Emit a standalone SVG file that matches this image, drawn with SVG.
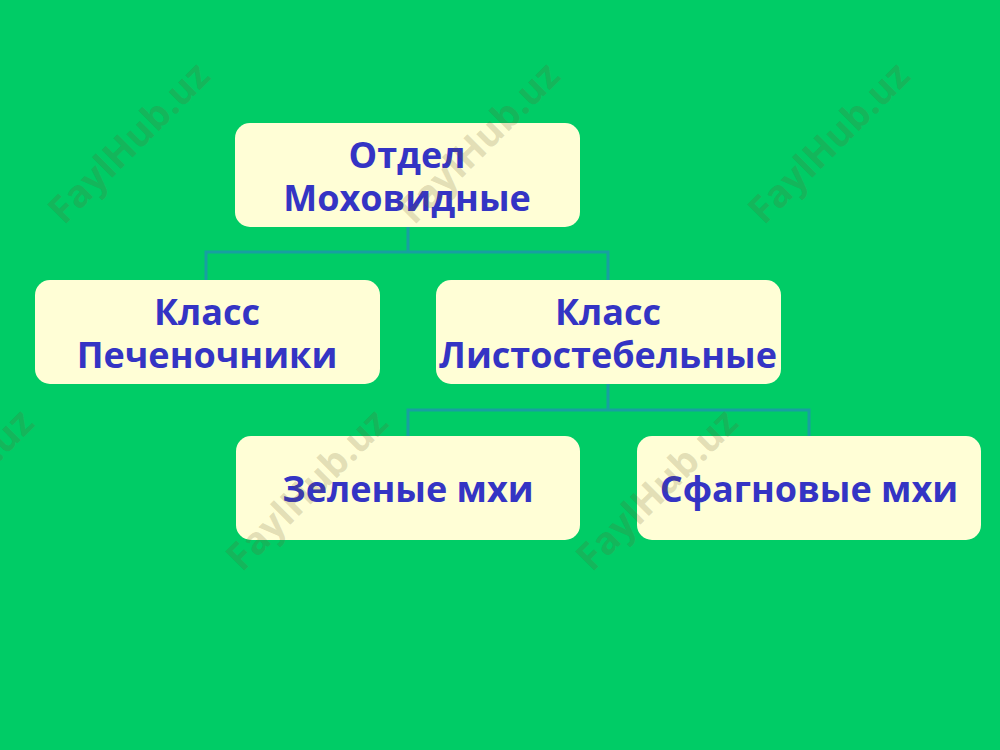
<svg xmlns="http://www.w3.org/2000/svg" width="1000" height="750" viewBox="0 0 1000 750">
<style>
.box{fill:#FFFED6}
.t{font-family:"Open Sans","Noto Sans","Liberation Sans",sans-serif;font-weight:bold;font-size:36px;fill:#3434C4;text-anchor:middle}
.wm{font-family:"Open Sans","Liberation Sans",sans-serif;font-weight:bold;font-size:38px;fill:#6B5A2E;fill-opacity:0.2}
.c{fill:none;stroke:#17A0A0;stroke-width:3}
</style>
<rect width="1000" height="750" fill="#00CC66"/>
<g id="connectors">
<path class="c" d="M408 227V252M206 280V252H608V280"/>
<path class="c" d="M608 384V410M408 436V410H809V436"/>
</g>
<g id="n1"><rect class="box" x="235" y="123" width="345" height="104" rx="15"/>
<text class="t" x="407" y="168">Отдел<tspan x="407" dy="43">Моховидные</tspan></text></g>
<g id="n2"><rect class="box" x="35" y="280" width="345" height="104" rx="15"/>
<text class="t" x="207" y="325">Класс<tspan x="207" dy="43">Печеночники</tspan></text></g>
<g id="n3"><rect class="box" x="436" y="280" width="345" height="104" rx="15"/>
<text class="t" x="608" y="325">Класс<tspan x="608" dy="43">Листостебельные</tspan></text></g>
<g id="n4"><rect class="box" x="236" y="436" width="344" height="104" rx="15"/>
<text class="t" x="408" y="502">Зеленые мхи</text></g>
<g id="n5"><rect class="box" x="637" y="436" width="344" height="104" rx="15"/>
<text class="t" x="809" y="502">Сфагновые мхи</text></g>
<g id="watermarks">
<text class="wm" transform="translate(64,226) rotate(-45)">FaylHub.uz</text>
<text class="wm" transform="translate(414,226) rotate(-45)">FaylHub.uz</text>
<text class="wm" transform="translate(764,226) rotate(-45)">FaylHub.uz</text>
<text class="wm" transform="translate(-112,573) rotate(-45)">FaylHub.uz</text>
<text class="wm" transform="translate(242,573) rotate(-45)">FaylHub.uz</text>
<text class="wm" transform="translate(592,573) rotate(-45)">FaylHub.uz</text>
</g>
</svg>
